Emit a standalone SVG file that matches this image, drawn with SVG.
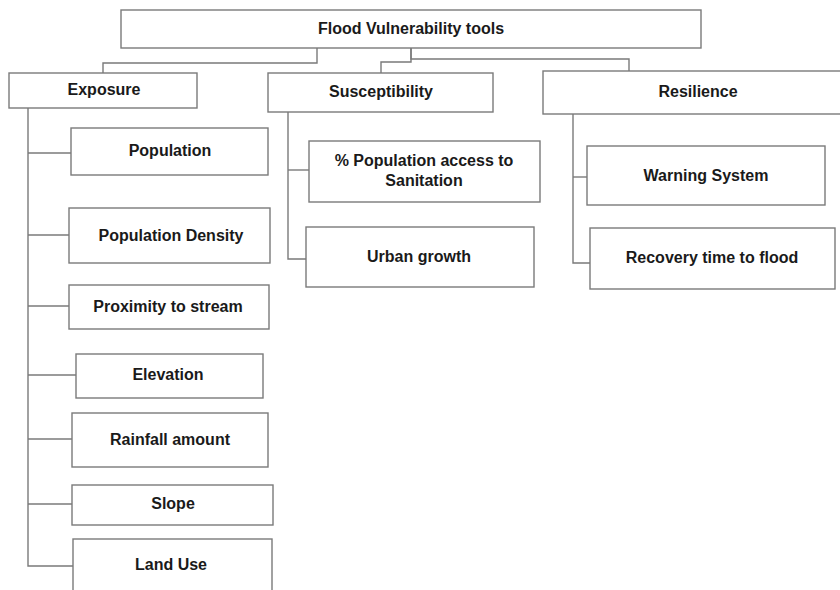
<svg xmlns="http://www.w3.org/2000/svg" width="840" height="590" viewBox="0 0 840 590">
<style>
.box{fill:#fff;stroke:#7a7a7a;stroke-width:1.4}
.lbl{font-family:"Liberation Sans",Arial,sans-serif;font-weight:bold;font-size:16px;fill:#1a1a1a;text-anchor:middle;dominant-baseline:central}
.conn path{fill:none;stroke:#7a7a7a;stroke-width:1.4}
</style>
<rect width="840" height="590" fill="#fff"/>
<g class="conn" id="connectors">
<path d="M317,48 V63 H103 V73"/>
<path d="M411,48 V62 H381 V73"/>
<path d="M411,48 V59 H629 V71"/>
<path d="M28,108 V566 H73"/>
<path d="M28,153 H71"/>
<path d="M28,235 H69"/>
<path d="M28,306 H69"/>
<path d="M28,375 H76"/>
<path d="M28,439 H72"/>
<path d="M28,504 H72"/>
<path d="M288,112 V259 H306"/>
<path d="M288,170 H309"/>
<path d="M573,114 V263 H590"/>
<path d="M573,177 H587"/>
</g>
<g id="root"><rect class="box" x="121" y="10" width="580" height="38"/><text class="lbl" x="411" y="28">Flood Vulnerability tools</text></g>
<g id="exposure"><rect class="box" x="9" y="73" width="188" height="35"/><text class="lbl" x="104" y="89">Exposure</text></g>
<g id="susceptibility"><rect class="box" x="268" y="73" width="225" height="39"/><text class="lbl" x="381" y="91">Susceptibility</text></g>
<g id="resilience"><rect class="box" x="543" y="71" width="310" height="43"/><text class="lbl" x="698" y="91">Resilience</text></g>
<g id="population"><rect class="box" x="71" y="128" width="197" height="47"/><text class="lbl" x="170" y="150">Population</text></g>
<g id="population-density"><rect class="box" x="69" y="208" width="201" height="55"/><text class="lbl" x="171" y="235">Population Density</text></g>
<g id="proximity"><rect class="box" x="69" y="285" width="200" height="44"/><text class="lbl" x="168" y="306">Proximity to stream</text></g>
<g id="elevation"><rect class="box" x="76" y="354" width="187" height="44"/><text class="lbl" x="168" y="374">Elevation</text></g>
<g id="rainfall"><rect class="box" x="72" y="413" width="196" height="54"/><text class="lbl" x="170" y="439">Rainfall amount</text></g>
<g id="slope"><rect class="box" x="72" y="485" width="201" height="40"/><text class="lbl" x="173" y="503">Slope</text></g>
<g id="land-use"><rect class="box" x="73" y="539" width="199" height="60"/><text class="lbl" x="171" y="564">Land Use</text></g>
<g id="sanitation"><rect class="box" x="309" y="141" width="231" height="61"/><text class="lbl" x="424" y="160">% Population access to</text><text class="lbl" x="424" y="180">Sanitation</text></g>
<g id="urban-growth"><rect class="box" x="306" y="227" width="228" height="60"/><text class="lbl" x="419" y="256">Urban growth</text></g>
<g id="warning-system"><rect class="box" x="587" y="146" width="238" height="59"/><text class="lbl" x="706" y="175">Warning System</text></g>
<g id="recovery-time"><rect class="box" x="590" y="228" width="245" height="61"/><text class="lbl" x="712" y="257">Recovery time to flood</text></g>
</svg>
